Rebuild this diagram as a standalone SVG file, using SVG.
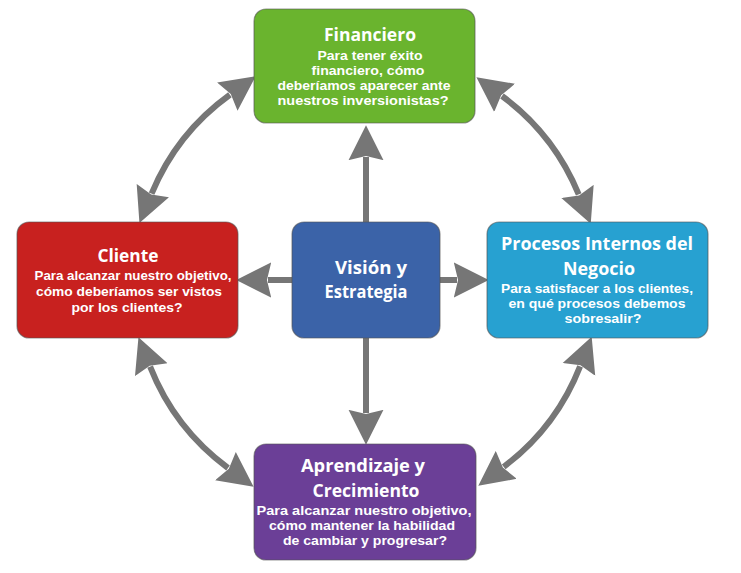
<svg xmlns="http://www.w3.org/2000/svg" width="741" height="573" viewBox="0 0 741 573">
<style>
.box{stroke:#555;stroke-opacity:0.6;stroke-width:1.2}
.t{font-family:"Open Sans","DejaVu Sans",sans-serif;font-weight:700;font-size:18px;fill:#fff;text-anchor:middle}
.b{font-family:"Liberation Sans",Arial,sans-serif;font-weight:bold;font-size:13.5px;fill:#fff;text-anchor:middle}
.c{fill:none;stroke:#767676;stroke-width:6}
</style>
<defs>
<marker id="ah" markerUnits="userSpaceOnUse" markerWidth="36" markerHeight="36" viewBox="0 -17 34 34" refX="3" refY="0" orient="auto-start-reverse">
<path d="M0,-16.5 L33,0 L0,16.5 L4,0 Z" fill="#767676"/>
</marker>
</defs>
<g id="connectors">
<path class="c" d="M366,222 L366,157" marker-end="url(#ah)"/>
<path class="c" d="M366,338 L366,413" marker-end="url(#ah)"/>
<path class="c" d="M292,280 L268,280" marker-end="url(#ah)"/>
<path class="c" d="M440,280 L457,280" marker-end="url(#ah)"/>
<path class="c" d="M229.9,94.7 A231,231 0 0 0 151.6,193.6" marker-start="url(#ah)" marker-end="url(#ah)"/>
<path class="c" d="M502,96 A231,231 0 0 1 578.7,194.4" marker-start="url(#ah)" marker-end="url(#ah)"/>
<path class="c" d="M150.1,366.7 A231,231 0 0 0 228,468" marker-start="url(#ah)" marker-end="url(#ah)"/>
<path class="c" d="M580.1,366.3 A231,231 0 0 1 503.7,466.8" marker-start="url(#ah)" marker-end="url(#ah)"/>
</g>
<g id="financiero">
<rect class="box" x="254" y="9" width="221" height="114" rx="12" fill="#6ab42e"/>
<text class="t" x="370" y="41" textLength="92" lengthAdjust="spacingAndGlyphs">Financiero</text>
<text class="b" x="370" y="60" textLength="105" lengthAdjust="spacingAndGlyphs">Para tener éxito</text>
<text class="b" x="368" y="75" textLength="113" lengthAdjust="spacingAndGlyphs">financiero, cómo</text>
<text class="b" x="364" y="90" textLength="173" lengthAdjust="spacingAndGlyphs">deberíamos aparecer ante</text>
<text class="b" x="363" y="105" textLength="171" lengthAdjust="spacingAndGlyphs">nuestros inversionistas?</text>
</g>
<g id="cliente">
<rect class="box" x="17" y="222" width="221" height="116" rx="12" fill="#c8211f"/>
<text class="t" x="128" y="262" textLength="61" lengthAdjust="spacingAndGlyphs">Cliente</text>
<text class="b" x="133" y="280" textLength="197" lengthAdjust="spacingAndGlyphs">Para alcanzar nuestro objetivo,</text>
<text class="b" x="129" y="296" textLength="186" lengthAdjust="spacingAndGlyphs">cómo deberíamos ser vistos</text>
<text class="b" x="127" y="312" textLength="111" lengthAdjust="spacingAndGlyphs">por los clientes?</text>
</g>
<g id="vision">
<rect class="box" x="292" y="222" width="148" height="116" rx="12" fill="#3b63a8"/>
<text class="t" x="371" y="274" textLength="72" lengthAdjust="spacingAndGlyphs">Visión y</text>
<text class="t" x="366" y="298" textLength="83" lengthAdjust="spacingAndGlyphs">Estrategia</text>
</g>
<g id="procesos">
<rect class="box" x="487" y="222" width="221" height="116" rx="12" fill="#27a1d1"/>
<text class="t" x="597" y="250" textLength="192" lengthAdjust="spacingAndGlyphs">Procesos Internos del</text>
<text class="t" x="599" y="275" textLength="72" lengthAdjust="spacingAndGlyphs">Negocio</text>
<text class="b" x="597" y="293" textLength="192" lengthAdjust="spacingAndGlyphs">Para satisfacer a los clientes,</text>
<text class="b" x="597" y="308" textLength="177" lengthAdjust="spacingAndGlyphs">en qué procesos debemos</text>
<text class="b" x="603" y="323" textLength="77" lengthAdjust="spacingAndGlyphs">sobresalir?</text>
</g>
<g id="aprendizaje">
<rect class="box" x="254" y="444" width="222" height="116" rx="12" fill="#6b3f97"/>
<text class="t" x="363" y="472" textLength="124" lengthAdjust="spacingAndGlyphs">Aprendizaje y</text>
<text class="t" x="366" y="497" textLength="107" lengthAdjust="spacingAndGlyphs">Crecimiento</text>
<text class="b" x="364" y="515" textLength="215" lengthAdjust="spacingAndGlyphs">Para alcanzar nuestro objetivo,</text>
<text class="b" x="362" y="530" textLength="186" lengthAdjust="spacingAndGlyphs">cómo mantener la habilidad</text>
<text class="b" x="365" y="545" textLength="164" lengthAdjust="spacingAndGlyphs">de cambiar y progresar?</text>
</g>
</svg>
